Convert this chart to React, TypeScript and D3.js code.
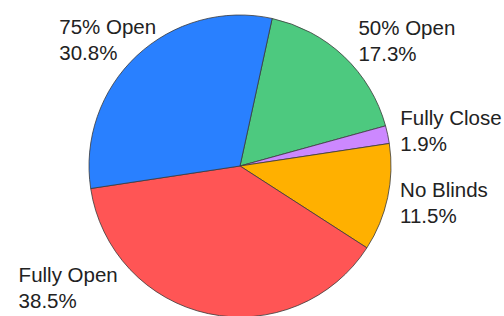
import React from "react";
import * as d3 from "d3";

const categories = ["50% Open", "Fully Close", "No Blinds", "Fully Open", "75% Open"];
const values = [17.3, 1.9, 11.5, 38.5, 30.8];
const colors = ["#4dc97f", "#cc88ff", "#ffb000", "#ff5555", "#2980ff"];

const W = 504;
const H = 316;
const cx = 240;
const cy = 166;
const r = 151;
const startDeg = 12.3;
const fontSize = 20.5;
const lineGap = 26;
const gap = 10;

function textWidth(s: string): number {
  if (typeof document === "undefined") return s.length * fontSize * 0.55;
  const c = document.createElement("canvas").getContext("2d")!;
  c.font = `${fontSize}px "Liberation Sans", Arial, sans-serif`;
  return c.measureText(s).width;
}

function halfWidthAt(y: number): number {
  const dy = Math.abs(y - cy);
  return dy >= r ? 0 : Math.sqrt(r * r - dy * dy);
}

export default function App() {
  const start = (startDeg * Math.PI) / 180;
  const pie = d3
    .pie<number>()
    .sort(null)
    .startAngle(start)
    .endAngle(start + 2 * Math.PI)(values);
  const arc = d3.arc<d3.PieArcDatum<number>>().innerRadius(0).outerRadius(r);

  const labels = pie.map((p, i) => {
    const mid = (p.startAngle + p.endAngle) / 2;
    const R = r * 1.15;
    let center = cy - R * Math.cos(mid);
    center = Math.max(36, Math.min(H - 8 - 21, center));
    const b1 = center - 5;
    const b2 = center + 21;
    const lines = [categories[i], `${values[i].toFixed(1)}%`];
    const right = Math.sin(mid) > 0;
    const rows: [number, number][] = [
      [b1 - 15, b1],
      [b2 - 15, b2],
    ];
    let x: number;
    if (right) {
      x = -Infinity;
      rows.forEach(([t, b]) => {
        const yc = t > cy ? t : b < cy ? b : cy;
        x = Math.max(x, cx + halfWidthAt(yc) + gap);
      });
    } else {
      x = Infinity;
      rows.forEach(([t, b], k) => {
        const yc = t > cy ? t : b < cy ? b : cy;
        x = Math.min(x, cx - halfWidthAt(yc) - gap - textWidth(lines[k]));
      });
    }
    return { x, b1, b2, lines };
  });

  return (
    <svg
      width={W}
      height={H}
      style={{ position: "absolute", left: 0, top: 0, background: "#fff" }}
    >
      <g transform={`translate(${cx},${cy})`}>
        {pie.map((p, i) => (
          <path
            key={i}
            d={arc(p) || ""}
            fill={colors[i]}
            stroke="#3a3a3a"
            strokeWidth={0.8}
            strokeLinejoin="round"
          />
        ))}
      </g>
      {labels.map((l, i) => (
        <text
          key={i}
          fontFamily='"Liberation Sans", Arial, sans-serif'
          fontSize={fontSize}
          fill="#222"
        >
          <tspan x={l.x} y={l.b1}>
            {l.lines[0]}
          </tspan>
          <tspan x={l.x} y={l.b2}>
            {l.lines[1]}
          </tspan>
        </text>
      ))}
    </svg>
  );
}
